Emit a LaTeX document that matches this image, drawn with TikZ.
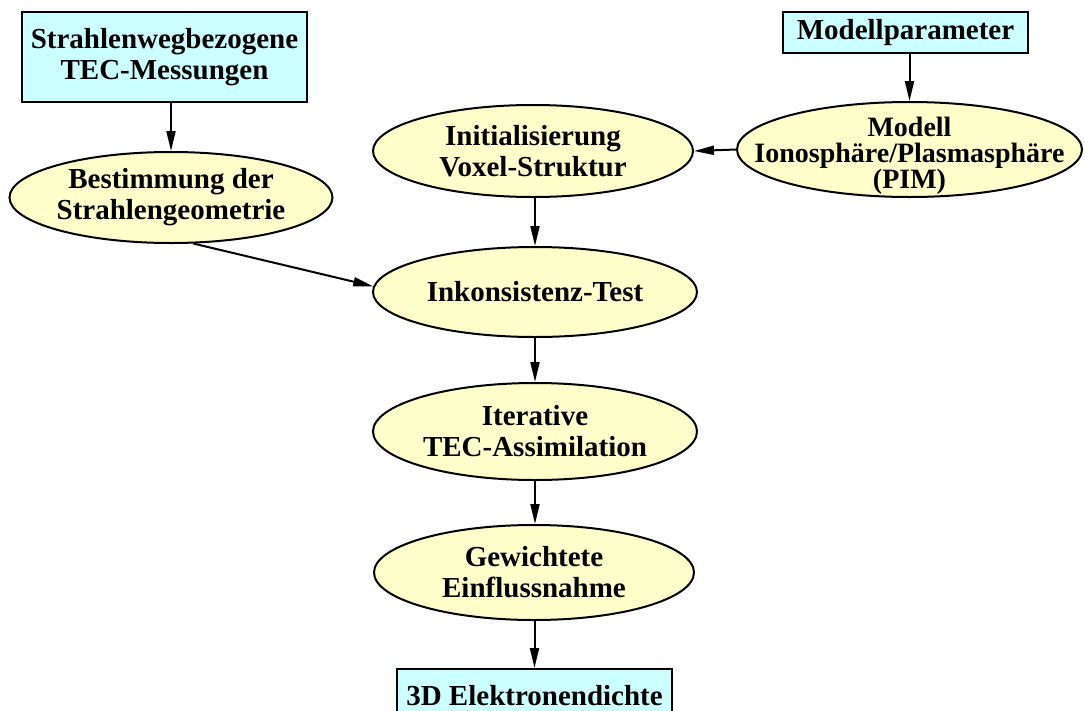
\documentclass[tikz,border=0pt]{standalone}
\usepackage{fontspec}
\setmainfont{Liberation Serif}
\usetikzlibrary{shapes.geometric,arrows.meta}
\definecolor{boxcyan}{RGB}{204,255,255}
\definecolor{ellyellow}{RGB}{255,255,204}
\begin{document}
\begin{tikzpicture}[x=1pt,y=-1pt,
  every node/.style={font=\fontsize{29}{31}\selectfont\bfseries, align=center, inner sep=0pt},
  box/.style={draw=black, line width=2pt, fill=boxcyan, rectangle},
  ell/.style={draw=black, line width=2pt, fill=ellyellow, ellipse, inner xsep=-80pt, inner ysep=-30pt},
  arr/.style={draw=black, line width=2pt, -{Triangle[length=20pt,width=9pt]}}]
\useasboundingbox (0,0) rectangle (1085,710);
\node[box, minimum width=285pt, minimum height=90pt] (m1) at (164.5,57) {Strahlenwegbezogene\\TEC-Messungen};
\node[box, minimum width=245pt, minimum height=41pt] (pm) at (905.5,32.5) {Modellparameter};
\node[ell, minimum width=323pt, minimum height=91pt] (bs) at (171,197.5) {Bestimmung der\\Strahlengeometrie};
\node[ell, minimum width=320pt, minimum height=92pt] (init) at (533,151) {Initialisierung\\Voxel-Struktur};
\node[ell, minimum width=345pt, minimum height=95pt, font=\fontsize{28}{26}\selectfont\bfseries, text height=83pt, text depth=6pt] (mod) at (909.5,149.5) {Modell\\Ionosphäre/Plasmasphäre\\(PIM)};
\node[ell, minimum width=324pt, minimum height=90pt] (ink) at (535,292) {Inkonsistenz-Test};
\node[ell, minimum width=324pt, minimum height=97pt] (iter) at (535,431.5) {Iterative\\TEC-Assimilation};
\node[ell, minimum width=320pt, minimum height=95pt] (gew) at (534,572.5) {Gewichtete\\Einflussnahme};
\node[box, anchor=north, minimum width=275pt, text height=20pt, text depth=6pt, inner ysep=16pt] (out) at (534.5,668) {3D Elektronendichte};
\draw[arr] (bs.north |- m1.south) -- (bs.north);
\draw[arr] (mod.north |- pm.south) -- (mod.north);
\draw[arr] (mod.west) -- (init.east);
\draw[arr] (ink.north |- init.south) -- (ink.north);
\draw[arr] (bs.-64) -- (ink.178);
\draw[arr] (ink.south) -- (iter.north);
\draw[arr] (iter.south) -- (iter.south |- gew.north);
\draw[arr] (out.north |- gew.south) -- (out.north);
\end{tikzpicture}
\end{document}
